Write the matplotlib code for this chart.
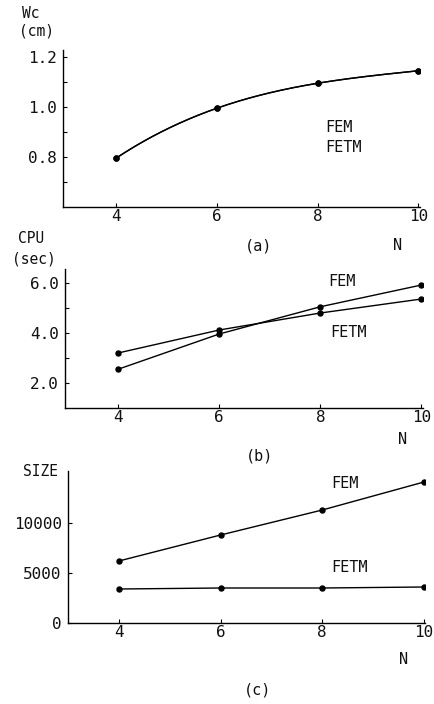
import matplotlib
matplotlib.use("Agg")
import matplotlib.pyplot as plt
import numpy as np

plt.rcParams['font.family'] = ['DejaVu Sans Mono', 'DejaVu Sans']

# ---- data ----
N = [4, 6, 8, 10]
wc_fem = [0.795, 0.995, 1.095, 1.145]
wc_fetm = [0.795, 0.995, 1.095, 1.145]
cpu_fem = [2.55, 3.96, 5.05, 5.92]
cpu_fetm = [3.2, 4.12, 4.8, 5.36]
size_fem = [6200, 8800, 11300, 14100]
size_fetm = [3400, 3500, 3500, 3600]

x_ticks = [4, 6, 8, 10]
x_ticklabels = ['4', '6', '8', '10']
wc_ticks = [0.8, 1.0, 1.2]
wc_ticklabels = ['0.8', '1.0', '1.2']
cpu_ticks = [2.0, 4.0, 6.0]
cpu_ticklabels = ['2.0', '4.0', '6.0']
size_ticks = [0, 5000, 10000]
size_ticklabels = ['0', '5000', '10000']

W, H = 434, 704
fig = plt.figure(figsize=(W / 100, H / 100), dpi=100)


def add_ax(l, t, r, b):
    return fig.add_axes([l / W, 1 - b / H, (r - l) / W, (b - t) / H])


def ftext(x, y, s, size=11, ha='center'):
    fig.text(x / W, 1 - y / H, s, ha=ha, va='center', fontsize=size, color='#111111')


def style(ax, yticks, yticklabels, yminor):
    for s in ['top', 'right']:
        ax.spines[s].set_visible(False)
    for s in ['left', 'bottom']:
        ax.spines[s].set_linewidth(1.0)
    ax.set_xticks(x_ticks)
    ax.set_xticklabels(x_ticklabels, fontsize=11.5, color='#111111')
    ax.set_yticks(yticks)
    ax.set_yticklabels(yticklabels, fontsize=11.5, color='#111111')
    ax.set_yticks(yminor, minor=True)
    ax.tick_params(axis='both', which='both', direction='in', length=3, width=0.8)
    ax.tick_params(axis='x', pad=1.5)
    ax.tick_params(axis='y', pad=4.5)
    ax.patch.set_alpha(0)


line_kw = dict(color='black', lw=1.0)
mark_kw = dict(color='black', marker='o', ms=3.6, ls='none')

# (a)
axA = add_ax(63, 50, 420, 207)
xs = np.linspace(N[0], N[-1], 200)
for ser in (wc_fem, wc_fetm):
    coef = np.polyfit(N, ser, 3)
    axA.plot(xs, np.polyval(coef, xs), **line_kw)
    axA.plot(N, ser, **mark_kw)
axA.set_xlim(2.95, 10.03)
axA.set_ylim(0.6, 1.228)
style(axA, wc_ticks, wc_ticklabels, [0.7, 0.9, 1.1])

# (b)
axB = add_ax(65, 269, 423, 408)
axB.plot(N, cpu_fem, **line_kw)
axB.plot(N, cpu_fem, **mark_kw)
axB.plot(N, cpu_fetm, **line_kw)
axB.plot(N, cpu_fetm, **mark_kw)
axB.set_xlim(2.95, 10.03)
axB.set_ylim(1.0, 6.56)
style(axB, cpu_ticks, cpu_ticklabels, [3.0, 5.0])

# (c)
axC = add_ax(68, 471, 425, 623)
axC.plot(N, size_fem, **line_kw)
axC.plot(N, size_fem, **mark_kw)
axC.plot(N, size_fetm, **line_kw)
axC.plot(N, size_fetm, **mark_kw)
axC.set_xlim(3.0, 10.02)
axC.set_ylim(0, 15200)
style(axC, size_ticks, size_ticklabels, [])

# texts
ftext(31, 13, 'Wc', size=10.5)
ftext(37, 31, '(cm)', size=10.5)
ftext(325, 128, 'FEM', ha='left')
ftext(325, 148, 'FETM', ha='left')
ftext(259, 246, '(a)')
ftext(398, 245, 'N')

ftext(31, 238, 'CPU', size=10.5)
ftext(34, 259, '(sec)', size=10.5)
ftext(328, 281, 'FEM', ha='left')
ftext(330, 332, 'FETM', ha='left')
ftext(403, 439, 'N')
ftext(260, 456, '(b)')

ftext(40, 472, 'SIZE', size=10.5)
ftext(331, 483, 'FEM', ha='left')
ftext(331, 567, 'FETM', ha='left')
ftext(404, 660, 'N')
ftext(258, 690, '(c)')

fig.savefig('out.png', dpi=100)
